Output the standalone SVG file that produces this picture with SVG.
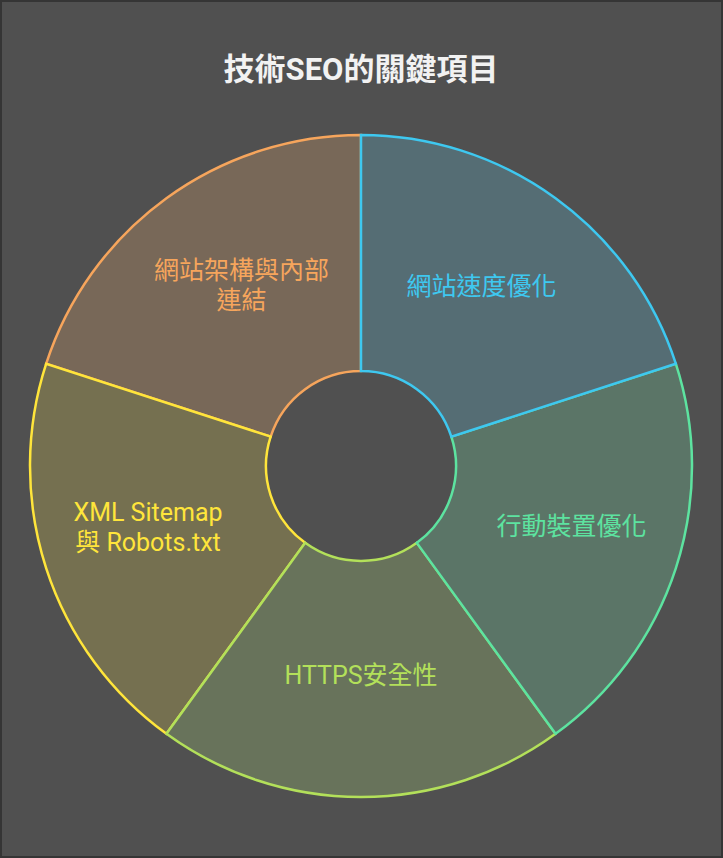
<svg xmlns="http://www.w3.org/2000/svg" width="723" height="858" viewBox="0 0 723 858">
<style>
.seg{stroke-width:2.5;stroke-linejoin:miter}
.lbl{font-family:Roboto,"Noto Sans CJK TC",sans-serif;font-size:25px;text-anchor:middle}
.title{font-family:Roboto,"Noto Sans CJK TC",sans-serif;font-size:31px;font-weight:bold;fill:#f2f2f2;text-anchor:middle}
</style>
<rect x="1" y="1" width="721" height="856" fill="#505050" stroke="#353535" stroke-width="2"/>
<text class="title" x="361" y="80">技術SEO的關鍵項目</text>
<g id="seg-architecture">
<path class="seg" fill="#786858" stroke="#f6a55c" d="M46.2,363.72 A331,331 0 0 1 361,135 L361,371 A95,95 0 0 0 270.65,436.64 Z"/>
<text class="lbl" fill="#f6a55c" x="241.5" y="279">網站架構與內部</text>
<text class="lbl" fill="#f6a55c" x="241.5" y="309">連結</text>
</g>
<g id="seg-sitemap">
<path class="seg" fill="#757050" stroke="#ffe53b" d="M166.44,733.78 A331,331 0 0 1 46.2,363.72 L270.65,436.64 A95,95 0 0 0 305.16,542.86 Z"/>
<text class="lbl" fill="#ffe53b" x="148" y="521">XML Sitemap</text>
<text class="lbl" fill="#ffe53b" x="148" y="551">與 Robots.txt</text>
</g>
<g id="seg-https">
<path class="seg" fill="#68735b" stroke="#b3e05a" d="M555.56,733.78 A331,331 0 0 1 166.44,733.78 L305.16,542.86 A95,95 0 0 0 416.84,542.86 Z"/>
<text class="lbl" fill="#b3e05a" x="361" y="684">HTTPS安全性</text>
</g>
<g id="seg-mobile">
<path class="seg" fill="#5b7567" stroke="#5de3a0" d="M675.8,363.72 A331,331 0 0 1 555.56,733.78 L416.84,542.86 A95,95 0 0 0 451.35,436.64 Z"/>
<text class="lbl" fill="#5de3a0" x="571.5" y="535">行動裝置優化</text>
</g>
<g id="seg-speed">
<path class="seg" fill="#556d74" stroke="#3ec8f0" d="M361,135 A331,331 0 0 1 675.8,363.72 L451.35,436.64 A95,95 0 0 0 361,371 Z"/>
<text class="lbl" fill="#3ec8f0" x="481.5" y="295">網站速度優化</text>
</g>
<g id="connectors"></g>
</svg>
